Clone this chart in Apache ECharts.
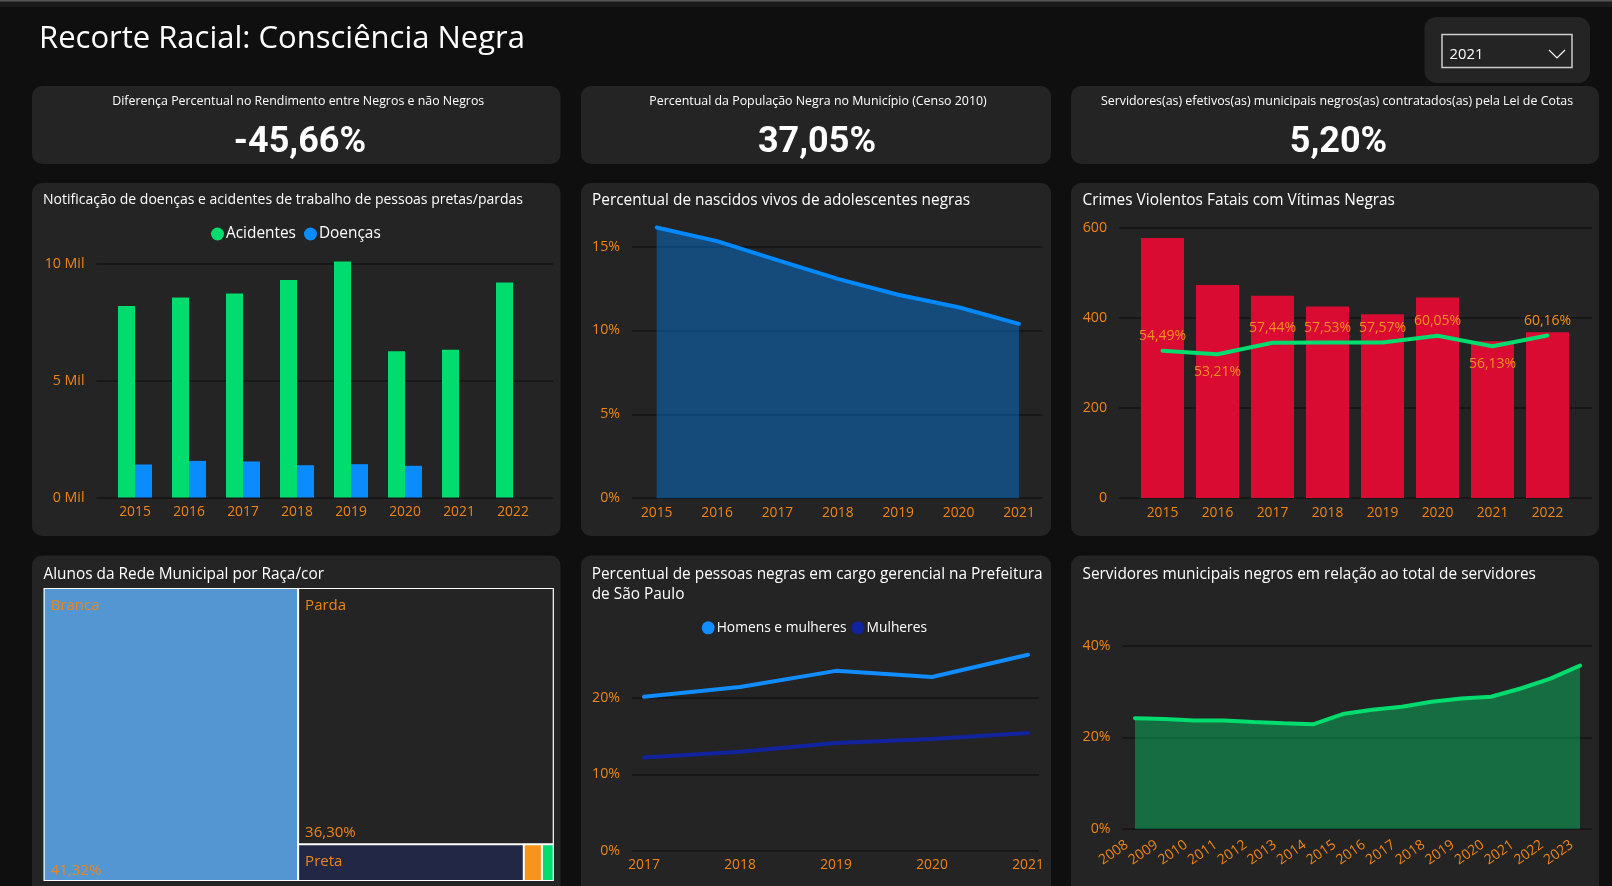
<!DOCTYPE html>
<html lang="pt-BR">
<head>
<meta charset="utf-8">
<title>Recorte Racial: Consciência Negra</title>
<script src="https://cdn.jsdelivr.net/npm/echarts@6/dist/echarts.min.js"></script>
<style>
html, body { margin: 0; padding: 0; background: #0f0f0f; overflow: hidden; }
#container { width: 1612px; height: 886px; }
</style>
</head>
<body>
<div id="container"></div>
<script>
var kpiTitulos = ['Diferença Percentual no Rendimento entre Negros e não Negros', 'Percentual da População Negra no Município (Censo 2010)', 'Servidores(as) efetivos(as) municipais negros(as) contratados(as) pela Lei de Cotas']
var kpiValores = ['-45,66%', '37,05%', '5,20%']

var anosNotificacao = ['2015', '2016', '2017', '2018', '2019', '2020', '2021', '2022']
var acidentes = [8180, 8550, 8720, 9300, 10085, 6255, 6310, 9190]
var doencas = [1410, 1565, 1540, 1380, 1425, 1355, null, null]

var anosNascidos = ['2015', '2016', '2017', '2018', '2019', '2020', '2021']
var nascidos = [16.13, 15.32, 14.19, 13.07, 12.12, 11.38, 10.39]

var anosCrimes = ['2015', '2016', '2017', '2018', '2019', '2020', '2021', '2022']
var crimes = [577, 473, 449, 425, 408, 445, 348, 368]
var crimesPercentual = [54.49, 53.21, 57.44, 57.53, 57.57, 60.05, 56.13, 60.16]
var crimesRotulo = ['top', 'bottom', 'top', 'top', 'top', 'top', 'bottom', 'top']

var racas = ['Branca', 'Parda', 'Preta', 'Amarela', 'Indígena']
var racasPercentual = [41.32, 36.30, 4.6, 0.37, 0.24]

var anosGerencia = ['2017', '2018', '2019', '2020', '2021']
var gerenciaTotal = [20.13, 21.4, 23.5, 22.7, 25.6]
var gerenciaMulheres = [12.2, 12.96, 14.1, 14.6, 15.4]

var anosServidores = ['2008', '2009', '2010', '2011', '2012', '2013', '2014', '2015', '2016', '2017', '2018', '2019', '2020', '2021', '2022', '2023']
var servidores = [24.2, 24.0, 23.7, 23.7, 23.35, 23.07, 22.85, 25.1, 26.05, 26.7, 27.8, 28.5, 28.9, 30.7, 32.85, 35.7]

var FONTE = '"Open Sans"'
var LARANJA = '#f08518'
var VERDE = '#00dc6e'
var AZUL = '#0a8cff'

var grids = [], xAxes = [], yAxes = [], series = [], legends = [], graficos = []

function virgula(v) {
    return v.toFixed(2).replace('.', ',') + '%'
}

function cartao(x, y, w, h, r) {
    graficos.push({ type: 'rect', z: -1, silent: true, shape: { x: x, y: y, width: w, height: h, r: r || 10 }, style: { fill: '#242424' } })
}

function texto(t, x, y, font, alinhamento, familia) {
    var al = alinhamento || 'left'
    graficos.push({
        type: 'text', z: 10, silent: true,
        style: { text: t, x: x, y: y, font: font + ' ' + (familia || FONTE), fill: '#fff', textAlign: al, align: al, verticalAlign: 'middle', textVerticalAlign: 'middle' }
    })
}

//grade de fundo (linhas e rotulos do eixo y) e grade interna com as categorias
function painel(c) {
    var altura = c.base - c.topo
    var fundo = grids.length
    var sobra = c.max % c.intervalo != 0
    grids.push({ left: c.x0, top: c.topo, width: c.x1 - c.x0, height: altura })
    xAxes.push({ gridIndex: fundo, type: 'value', min: 0, max: 1, show: false })
    yAxes.push({
        gridIndex: fundo, type: 'value', min: 0, max: c.max, interval: c.intervalo,
        axisLine: { show: false }, axisTick: { show: false },
        axisLabel: { color: LARANJA, fontFamily: FONTE, fontSize: 14.2, margin: 12, padding: [2, 0, 0, 0], showMaxLabel: !sobra, formatter: c.formato },
        splitLine: { show: true, showMaxLine: !sobra, lineStyle: { color: '#131313', width: 1.5 } }
    })
    var interna = grids.length
    grids.push({ left: c.b0, top: c.topo, width: c.b1 - c.b0, height: altura })
    xAxes.push({
        gridIndex: interna, type: 'category', data: c.categorias, boundaryGap: c.barras,
        axisLine: { show: false }, axisTick: { show: false }, splitLine: { show: false },
        axisLabel: Object.assign({ color: LARANJA, fontFamily: FONTE, fontSize: 13.8, margin: 8, interval: 0 }, c.rotulo || {})
    })
    var eixoY = yAxes.length
    yAxes.push({ gridIndex: interna, type: 'value', min: 0, max: c.max, interval: c.intervalo, show: false })
    return { x: interna, y: eixoY }
}

function linha(nome, eixos, dados, cor, area) {
    var s = {
        name: nome, type: 'line', xAxisIndex: eixos.x, yAxisIndex: eixos.y, data: dados,
        symbol: 'none', smooth: false, lineStyle: { color: cor, width: 4, cap: 'round' }, itemStyle: { color: cor }
    }
    if (area) {
        s.areaStyle = { color: cor, opacity: 0.4 }
    }
    series.push(s)
}

function legenda(nomes, x, y, tamanho, gap) {
    legends.push({
        data: nomes, left: x, top: y, padding: 0, itemWidth: 13, itemHeight: 13, itemGap: gap, icon: 'circle', selectedMode: false,
        textStyle: { color: '#fff', fontFamily: FONTE, fontSize: tamanho, padding: [0, 0, 0, -3] }
    })
}

//topo da pagina
graficos.push({ type: 'rect', z: -1, silent: true, shape: { x: 0, y: 0, width: 1612, height: 7 }, style: { fill: '#1a1a1a' } })
graficos.push({ type: 'rect', z: -1, silent: true, shape: { x: 0, y: 0, width: 1612, height: 1.5 }, style: { fill: '#555' } })
texto('Recorte Racial: Consciência Negra', 39, 39, '31px')

//filtro de ano
cartao(1424.5, 17, 165.5, 66, 12)
graficos.push({ type: 'rect', z: 1, silent: true, shape: { x: 1442, y: 34.5, width: 130, height: 33 }, style: { fill: 'none', stroke: '#ccc', lineWidth: 1.5 } })
texto('2021', 1449.5, 54.5, '14.8px')
graficos.push({ type: 'polyline', z: 10, silent: true, shape: { points: [[1549, 50], [1557, 58], [1565, 50]] }, style: { fill: 'none', stroke: '#fff', lineWidth: 1.2 } })

//indicadores
var kpiCaixas = [[32, 528.5], [581, 470], [1071, 528]]
var kpiCentros = [300, 817, 1338.5]
for (var i = 0; i < 3; i++) {
    cartao(kpiCaixas[i][0], 86, kpiCaixas[i][1], 78)
    texto(kpiTitulos[i], kpiCaixas[i][0] + kpiCaixas[i][1] / 2 + 2, 101.5, '12.4px', 'center')
    texto(kpiValores[i], kpiCentros[i], 142.5, 'bold 36px', 'center', 'Roboto')
}

//notificacao de doencas e acidentes
cartao(32, 183, 528.5, 353)
texto('Notificação de doenças e acidentes de trabalho de pessoas pretas/pardas', 43, 200, '14px')
legenda(['Acidentes', 'Doenças'], 211, 226.5, 15.4, 8)
var e1 = painel({ x0: 96.5, x1: 553, b0: 108, b1: 540, base: 497.5, topo: 251.8, max: 10500, intervalo: 5000, categorias: anosNotificacao, barras: true, formato: function (v) { return (v / 1000) + ' Mil' } })
series.push({ name: 'Acidentes', type: 'bar', xAxisIndex: e1.x, yAxisIndex: e1.y, data: acidentes, barWidth: 17, barGap: 0, itemStyle: { color: VERDE } })
series.push({ name: 'Doenças', type: 'bar', xAxisIndex: e1.x, yAxisIndex: e1.y, data: doencas, barWidth: 17, barGap: 0, itemStyle: { color: AZUL } })

//nascidos vivos
cartao(581, 183, 470, 353)
texto('Percentual de nascidos vivos de adolescentes negras', 592, 200.5, '15.4px')
var e2 = painel({ x0: 632, x1: 1042.7, b0: 656.7, b1: 1019, base: 498.2, topo: 212.9, max: 17, intervalo: 5, categorias: anosNascidos, barras: false, formato: '{value}%' })
linha('Nascidos vivos', e2, nascidos, '#0088ff', true)

//crimes violentos
cartao(1071, 183, 528, 353)
texto('Crimes Violentos Fatais com Vítimas Negras', 1082.5, 200.5, '15.4px')
var e3 = painel({ x0: 1119, x1: 1592, b0: 1135, b1: 1575, base: 498.1, topo: 227.7, max: 600, intervalo: 200, categorias: anosCrimes, barras: true, formato: '{value}' })
series.push({ name: 'Crimes', type: 'bar', xAxisIndex: e3.x, yAxisIndex: e3.y, data: crimes, barWidth: 43, itemStyle: { color: '#d90b33' } })
var eixoPercentual = yAxes.length
yAxes.push({ gridIndex: e3.x, type: 'value', min: 0, max: 100, show: false })
series.push({
    name: 'Percentual', type: 'line', z: 5, xAxisIndex: e3.x, yAxisIndex: eixoPercentual,
    data: crimesPercentual.map(function (v, i) {
        return { value: v, label: { position: crimesRotulo[i], distance: crimesRotulo[i] == 'top' ? 7 : 10 } }
    }),
    symbol: 'circle', symbolSize: 1, showSymbol: true, lineStyle: { color: VERDE, width: 4, cap: 'round' }, itemStyle: { color: VERDE },
    label: { show: true, color: '#f2921d', fontFamily: FONTE, fontSize: 14, formatter: function (p) { return virgula(p.value) } }
})

//alunos por raca/cor
cartao(32, 555.5, 528.5, 345)
texto('Alunos da Rede Municipal por Raça/cor', 43.5, 574.5, '15.4px')
var coresRaca = ['#5496d1', '#242424', '#212745', '#f7941e', VERDE]
var folgaRaca = ['sb', 'sp']
series.push({
    name: 'Raça/cor', type: 'treemap', left: 43.7, top: 588, width: 510, height: 293, silent: true, roam: false, nodeClick: false,
    breadcrumb: { show: false }, squareRatio: 1.618, visibleMin: 0,
    levels: [{ itemStyle: { borderWidth: 0, gapWidth: 0 } }, { itemStyle: { borderColor: '#fff', borderWidth: 1 } }],
    label: {
        show: true, position: 'insideTopLeft', distance: 1, padding: [8, 0, 0, 5], overflow: 'none', lineOverflow: 'none',
        color: LARANJA, fontFamily: FONTE, fontSize: 15, lineHeight: 16,
        rich: {
            n: { color: LARANJA, fontFamily: FONTE, fontSize: 15, lineHeight: 16 },
            sb: { height: 249, lineHeight: 249 },
            sp: { height: 211, lineHeight: 211 }
        }
    },
    data: racas.map(function (r, i) {
        var item = { name: r, value: racasPercentual[i], itemStyle: { color: coresRaca[i] } }
        if (i < 2) {
            item.label = { formatter: '{n|' + r + '}\n{' + folgaRaca[i] + '| }\n{n|' + virgula(racasPercentual[i]) + '}' }
        } else if (i > 2) {
            item.label = { show: false }
        }
        return item
    })
})

//cargo gerencial
cartao(581, 555.5, 470, 345)
texto('Percentual de pessoas negras em cargo gerencial na Prefeitura', 591.7, 574.5, '15.4px')
texto('de São Paulo', 591.7, 595, '15.4px')
legenda(['Homens e mulheres', 'Mulheres'], 701.7, 620.8, 13.8, 5)
var e5 = painel({ x0: 632, x1: 1039, b0: 644, b1: 1028, base: 851, topo: 628.7, max: 29, intervalo: 10, categorias: anosGerencia, barras: false, formato: '{value}%', rotulo: { margin: 7 } })
linha('Homens e mulheres', e5, gerenciaTotal, '#118dff')
linha('Mulheres', e5, gerenciaMulheres, '#12239e')

//servidores negros
cartao(1071, 555.5, 528, 345)
texto('Servidores municipais negros em relação ao total de servidores', 1082.5, 574.5, '15.4px')
var e6 = painel({ x0: 1122.5, x1: 1592, b0: 1135, b1: 1580, base: 828.7, topo: 646, max: 40, intervalo: 20, categorias: anosServidores, barras: false, formato: '{value}%', rotulo: { rotate: 35, margin: 9, padding: [0, 10, 0, 0], fontSize: 14 } })
linha('Servidores negros', e6, servidores, VERDE, true)

var myChart = echarts.init(document.getElementById('container'))
myChart.setOption({
    animation: false,
    backgroundColor: '#0f0f0f',
    tooltip: { show: false },
    grid: grids,
    xAxis: xAxes,
    yAxis: yAxes,
    legend: legends,
    series: series,
    graphic: { elements: graficos }
})
</script>
</body>
</html>
